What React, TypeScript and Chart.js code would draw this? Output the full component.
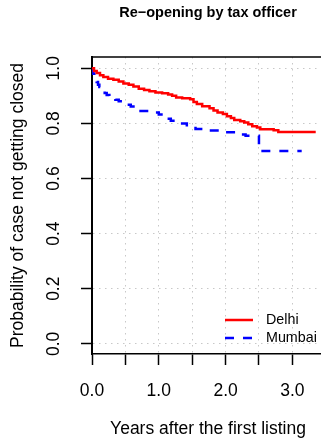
import React, { useEffect, useRef } from 'react';
import { Chart, registerables } from 'chart.js';

Chart.register(...registerables);

const FONT = '"Liberation Sans", Arial, Helvetica, sans-serif';

const TITLE = 'Re\u2212opening by tax officer';
const X_TITLE = 'Years after the first listing';
const Y_TITLE = 'Probability of case not getting closed';

const SERIES_NAMES = ['Delhi', 'Mumbai'];
const SERIES_COLORS = ['#ff0000', '#0000ff'];

const X_TICKS = [0, 0.5, 1, 1.5, 2, 2.5, 3];
const Y_TICKS = [0, 0.2, 0.4, 0.6, 0.8, 1.0];

// Delhi survival steps (time in years, probability after the drop)
const DELHI_T = [0, 0.03, 0.07, 0.12, 0.17, 0.24, 0.32, 0.4, 0.47, 0.55, 0.62, 0.7, 0.78, 0.86, 0.95, 1.05, 1.14, 1.2, 1.26, 1.35, 1.47, 1.52, 1.57, 1.65, 1.76, 1.82, 1.88, 1.96, 2.02, 2.08, 2.13, 2.22, 2.28, 2.34, 2.4, 2.47, 2.52, 2.72, 2.79, 3.35];
const DELHI_S = [1.0, 0.99, 0.983, 0.975, 0.968, 0.962, 0.958, 0.952, 0.945, 0.94, 0.934, 0.926, 0.921, 0.917, 0.912, 0.909, 0.905, 0.9, 0.894, 0.891, 0.888, 0.878, 0.87, 0.862, 0.855, 0.847, 0.84, 0.834, 0.826, 0.82, 0.812, 0.808, 0.803, 0.797, 0.79, 0.785, 0.779, 0.775, 0.769, 0.769];

// Mumbai survival steps
const MUMBAI_T = [0, 0.01, 0.02, 0.035, 0.05, 0.07, 0.09, 0.11, 0.13, 0.16, 0.19, 0.22, 0.26, 0.3, 0.35, 0.4, 0.46, 0.52, 0.58, 0.64, 0.7, 0.88, 1.0, 1.06, 1.12, 1.18, 1.28, 1.42, 1.55, 1.7, 2.0, 2.15, 2.3, 2.5, 3.14];
const MUMBAI_S = [1.0, 0.99, 0.98, 0.97, 0.96, 0.95, 0.94, 0.932, 0.925, 0.918, 0.91, 0.903, 0.897, 0.891, 0.886, 0.88, 0.875, 0.868, 0.861, 0.853, 0.845, 0.84, 0.832, 0.825, 0.817, 0.81, 0.8, 0.788, 0.78, 0.774, 0.768, 0.76, 0.755, 0.7, 0.7];

const toPoints = (t: number[], s: number[]) => t.map((x, i) => ({ x, y: s[i] }));

const titlePlugin = {
  id: 'rTitle',
  afterDraw(chart: any) {
    const { ctx, chartArea } = chart;
    ctx.save();
    ctx.font = `bold 14.5px ${FONT}`;
    ctx.fillStyle = '#000';
    ctx.textAlign = 'center';
    ctx.textBaseline = 'middle';
    ctx.fillText(TITLE, (chartArea.left + chartArea.right) / 2, 13);
    ctx.restore();
  },
};

const boxPlugin = {
  id: 'rBox',
  afterDraw(chart: any) {
    const { ctx, chartArea } = chart;
    ctx.save();
    ctx.strokeStyle = '#000';
    ctx.lineWidth = 1.5;
    ctx.beginPath();
    ctx.moveTo(chartArea.left, chartArea.top);
    ctx.lineTo(chartArea.right, chartArea.top);
    ctx.stroke();
    ctx.restore();
  },
};

const legendPlugin = {
  id: 'rLegend',
  afterDatasetsDraw(chart: any) {
    const { ctx, chartArea } = chart;
    const x0 = chartArea.right - 99;
    const x1 = chartArea.right - 71;
    const xt = chartArea.right - 58;
    const ys = [chartArea.bottom - 34, chartArea.bottom - 16];
    chart.data.datasets.forEach((ds: any, i: number) => {
      ctx.save();
      ctx.strokeStyle = ds.borderColor;
      ctx.lineWidth = ds.borderWidth;
      ctx.setLineDash(ds.borderDash || []);
      ctx.beginPath();
      ctx.moveTo(x0, ys[i]);
      ctx.lineTo(x1, ys[i]);
      ctx.stroke();
      ctx.setLineDash([]);
      ctx.fillStyle = '#000';
      ctx.font = `14.3px ${FONT}`;
      ctx.textAlign = 'left';
      ctx.textBaseline = 'middle';
      ctx.fillText(ds.label, xt, ys[i]);
      ctx.restore();
    });
  },
};

export default function App() {
  const ref = useRef<HTMLCanvasElement | null>(null);

  useEffect(() => {
    if (!ref.current) return;
    const chart = new Chart(ref.current, {
      type: 'line',
      data: {
        datasets: [
          {
            label: SERIES_NAMES[0],
            data: toPoints(DELHI_T, DELHI_S),
            borderColor: SERIES_COLORS[0],
            borderWidth: 2.5,
            stepped: 'before',
            pointRadius: 0,
            fill: false,
          },
          {
            label: SERIES_NAMES[1],
            data: toPoints(MUMBAI_T, MUMBAI_S),
            borderColor: SERIES_COLORS[1],
            borderWidth: 2.5,
            borderDash: [9, 9],
            stepped: 'before',
            pointRadius: 0,
            fill: false,
          },
        ],
      },
      options: {
        animation: false,
        responsive: false,
        devicePixelRatio: 1,
        layout: { padding: { top: 57, right: 6, left: 0, bottom: 0 } },
        plugins: {
          legend: { display: false },
          title: { display: false },
          tooltip: { enabled: false },
        },
        scales: {
          x: {
            type: 'linear',
            min: 0,
            max: 3.474,
            afterBuildTicks: (scale: any) => {
              scale.ticks = X_TICKS.map((v) => ({ value: v }));
            },
            afterFit: (scale: any) => {
              scale.height = 87;
            },
            ticks: {
              autoSkip: false,
              maxRotation: 0,
              padding: 16,
              color: '#000',
              font: { family: FONT, size: 17.5 },
              callback: (v: any) => (Number.isInteger(Number(v)) ? Number(v).toFixed(1) : ''),
            },
            grid: {
              color: '#c8c8c8',
              lineWidth: 1,
              tickColor: '#000',
              tickLength: 11,
              tickWidth: 1.5,
              tickBorderDash: [],
            },
            border: { display: true, color: '#000', width: 1.5, dash: [1.5, 4.5] },
            title: {
              display: true,
              text: X_TITLE,
              color: '#000',
              font: { family: FONT, size: 17.5 },
              padding: { top: 0, bottom: 1 },
            },
          },
          y: {
            type: 'linear',
            min: -0.037,
            max: 1.041,
            afterBuildTicks: (scale: any) => {
              scale.ticks = Y_TICKS.map((v) => ({ value: v }));
            },
            afterFit: (scale: any) => {
              scale.width = 92;
            },
            ticks: {
              minRotation: 90,
              maxRotation: 90,
              crossAlign: 'center',
              padding: 15,
              color: '#000',
              font: { family: FONT, size: 17.5 },
              callback: (v: any) => Number(v).toFixed(1),
            },
            grid: {
              color: '#c8c8c8',
              lineWidth: 1,
              tickColor: '#000',
              tickLength: 11,
              tickWidth: 1.5,
              tickBorderDash: [],
            },
            border: { display: true, color: '#000', width: 2, dash: [1.5, 4.5] },
            title: {
              display: true,
              text: Y_TITLE,
              color: '#000',
              font: { family: FONT, size: 17.5 },
              padding: { top: 8, bottom: 0 },
            },
          },
        },
      } as any,
      plugins: [titlePlugin, boxPlugin, legendPlugin],
    });
    return () => chart.destroy();
  }, []);

  return (
    <div style={{ position: 'fixed', left: 0, top: 0, width: 321, height: 441, overflow: 'hidden', background: '#fff' }}>
      <canvas ref={ref} width={330} height={441} style={{ display: 'block', width: 330, height: 441 }} />
    </div>
  );
}
